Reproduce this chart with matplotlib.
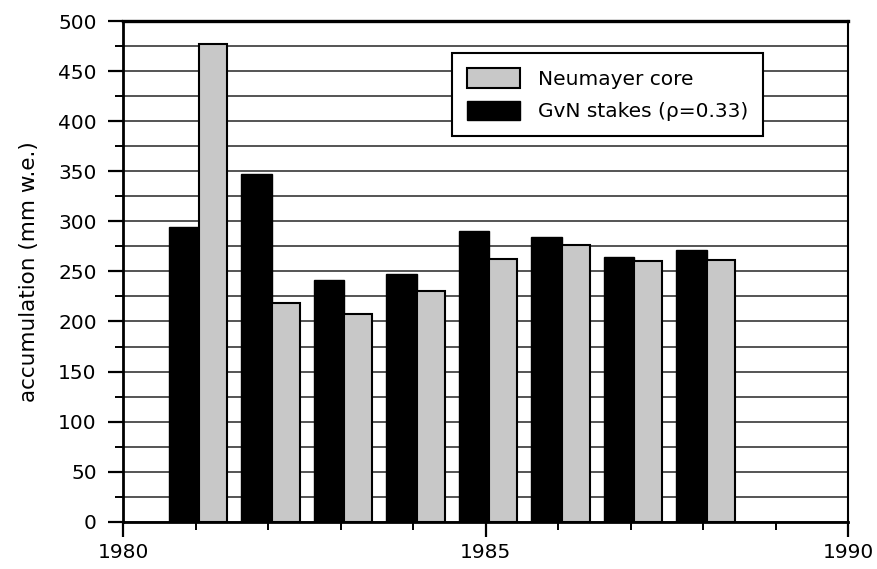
import matplotlib
matplotlib.use("Agg")
import matplotlib.pyplot as plt
from matplotlib.ticker import MultipleLocator, FixedLocator

# Annual accumulation, 1981-1988
years = [1981, 1982, 1983, 1984, 1985, 1986, 1987, 1988]
gvn_stakes = [294, 347, 241, 247, 290, 284, 264, 271]
neumayer_core = [477, 218, 207, 230, 262, 276, 260, 261]

label_core = "Neumayer core"
label_stakes = "GvN stakes (\u03c1=0.33)"
ylabel = "accumulation (mm w.e.)"
xtick_labels = ["1980", "1985", "1990"]

plt.rcParams["font.family"] = ["DejaVu Sans"]

fig = plt.figure(figsize=(8.77, 5.69), dpi=100)
ax = fig.add_axes([0.1403, 0.0830, 0.8267, 0.8800])

shift = 0.05
w_black = 0.42
w_gray = 0.39
xb = [y + shift - w_black for y in years]
xg = [y + shift for y in years]

ax.bar(xb, gvn_stakes, width=w_black, align="edge", color="black",
       edgecolor="black", linewidth=1.0, zorder=3, label=label_stakes)
ax.bar(xg, neumayer_core, width=w_gray, align="edge", color="#c8c8c8",
       edgecolor="black", linewidth=1.5, zorder=3, label=label_core)

ax.set_xlim(1980, 1990)
ax.set_ylim(0, 500)

ax.xaxis.set_major_locator(FixedLocator([1980, 1985, 1990]))
ax.set_xticklabels(xtick_labels)
ax.xaxis.set_minor_locator(MultipleLocator(1))
ax.yaxis.set_major_locator(MultipleLocator(50))
ax.yaxis.set_minor_locator(MultipleLocator(25))

ax.tick_params(axis="both", which="major", direction="out", length=11,
               width=1.6, labelsize=14.5, color="black")
ax.tick_params(axis="both", which="minor", direction="out", length=6,
               width=1.4, color="black")
ax.tick_params(axis="y", which="major", pad=8)
ax.tick_params(axis="x", which="major", pad=4)

ax.yaxis.grid(True, which="both", color="#262626", linewidth=1.1, zorder=0)
ax.set_axisbelow(True)

for side, lw in [("left", 2.0), ("bottom", 2.0), ("top", 2.4), ("right", 1.5)]:
    ax.spines[side].set_linewidth(lw)
    ax.spines[side].set_color("black")

ax.set_ylabel(ylabel, fontsize=15.5, labelpad=14)

handles, labels = ax.get_legend_handles_labels()
leg = ax.legend(handles[::-1], labels[::-1], loc="upper right",
                bbox_to_anchor=(0.883, 0.936), borderaxespad=0,
                fontsize=14.5, frameon=True, fancybox=False, framealpha=1,
                edgecolor="black", handlelength=2.6, handleheight=1.1,
                labelspacing=0.6, borderpad=0.75, handletextpad=0.9)
leg.get_frame().set_linewidth(1.5)

fig.savefig("out.png", dpi=100, facecolor="white")
